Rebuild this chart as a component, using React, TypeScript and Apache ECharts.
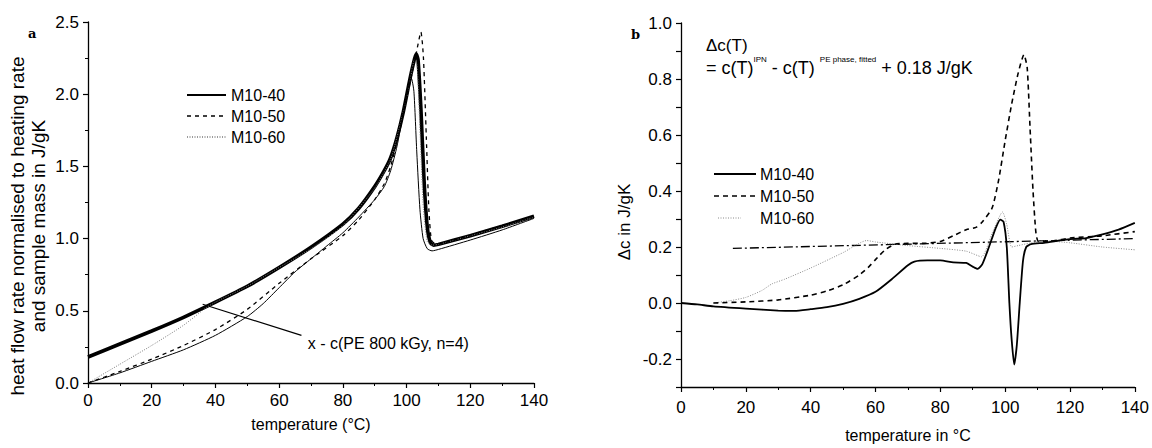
import React, { useEffect, useRef } from 'react';
import * as echarts from 'echarts';

// ---------- DATA ----------
const seriesNames = ['M10-40', 'M10-50', 'M10-60'];
const peName = 'x - c(PE 800 kGy, n=4)';
const baselineName = 'baseline';

// Panel a: heat flow rate (J/gK) vs temperature (°C)
const heatPE: [number, number][] = [
  [0, 0.18], [10, 0.27], [20, 0.36], [30, 0.455], [40, 0.56], [50, 0.67], [60, 0.8], [70, 0.94],
  [80, 1.1], [85, 1.21], [90, 1.36], [93, 1.47], [95, 1.56], [97, 1.7], [99, 1.88], [101, 2.1],
  [102, 2.2], [103, 2.28], [103.6, 2.24], [104.5, 1.9], [105.5, 1.4], [106.5, 1.08], [107.5, 0.97],
  [108.5, 0.955], [110, 0.96], [120, 1.02], [130, 1.085], [140, 1.155],
];
const heat40: [number, number][] = [
  [0, 0], [10, 0.07], [20, 0.15], [30, 0.23], [40, 0.33], [50, 0.46], [55, 0.55], [60, 0.66],
  [65, 0.77], [70, 0.86], [75, 0.95], [80, 1.04], [85, 1.15], [90, 1.27], [93, 1.36], [95, 1.47],
  [97, 1.64], [99, 1.87], [100.5, 2.04], [101.5, 2.11], [102.3, 2.02], [103.2, 1.6], [104.2, 1.2],
  [105.2, 1.0], [106.5, 0.93], [108, 0.915], [110, 0.925], [120, 0.99], [130, 1.06], [140, 1.14],
];
const heat50: [number, number][] = [
  [0, 0], [10, 0.08], [20, 0.165], [30, 0.26], [40, 0.37], [50, 0.51], [60, 0.69], [70, 0.86],
  [80, 1.02], [85, 1.13], [90, 1.27], [93, 1.38], [95, 1.5], [97, 1.67], [99, 1.87], [101, 2.07],
  [103, 2.28], [104.5, 2.43], [105.3, 2.25], [106.2, 1.7], [107, 1.2], [107.8, 0.99], [109, 0.965],
  [110, 0.965], [120, 1.025], [130, 1.09], [140, 1.155],
];
const heat60: [number, number][] = [
  [0, 0], [10, 0.13], [20, 0.26], [30, 0.4], [37, 0.52], [40, 0.56], [50, 0.67], [60, 0.8],
  [70, 0.93], [80, 1.09], [90, 1.35], [95, 1.55], [99, 1.88], [101, 2.08], [102.5, 2.24],
  [103.3, 2.2], [104.3, 1.7], [105.3, 1.2], [106.5, 0.98], [108, 0.955], [110, 0.96], [120, 1.02],
  [130, 1.08], [140, 1.15],
];

// Panel b: Δc (J/gK) vs temperature (°C)
const dc40: [number, number][] = [
  [0, 0], [5, -0.005], [10, -0.012], [20, -0.02], [30, -0.027], [35, -0.028], [40, -0.022],
  [45, -0.015], [50, -0.003], [55, 0.015], [60, 0.04], [65, 0.085], [70, 0.135], [72, 0.148],
  [76, 0.152], [80, 0.152], [84, 0.145], [88, 0.143], [90, 0.13], [91.5, 0.122], [93, 0.14],
  [95, 0.2], [97, 0.265], [98.5, 0.298], [99.5, 0.29], [100.5, 0.2], [101.3, 0.0], [102, -0.13],
  [102.8, -0.22], [103.6, -0.15], [104.5, 0.0], [105.5, 0.15], [106.5, 0.2], [108, 0.21],
  [112, 0.215], [120, 0.228], [125, 0.232], [130, 0.245], [135, 0.262], [140, 0.286],
];
const dc50: [number, number][] = [
  [10, 0.0], [20, 0.004], [30, 0.011], [40, 0.028], [45, 0.043], [50, 0.065], [55, 0.1],
  [58, 0.13], [60, 0.155], [63, 0.19], [66, 0.21], [70, 0.213], [75, 0.213], [80, 0.22],
  [84, 0.24], [88, 0.262], [91, 0.27], [93, 0.29], [96, 0.34], [98, 0.44], [100, 0.58],
  [102, 0.71], [104, 0.82], [105.8, 0.887], [106.8, 0.84], [107.7, 0.62], [108.6, 0.4],
  [109.5, 0.25], [110.3, 0.22], [115, 0.222], [120, 0.232], [130, 0.24], [140, 0.255],
];
const dc60: [number, number][] = [
  [10, 0.0], [15, 0.008], [20, 0.02], [25, 0.045], [28, 0.068], [32, 0.085], [40, 0.125],
  [50, 0.18], [57.3, 0.223], [60, 0.218], [70, 0.205], [80, 0.195], [88, 0.185], [92.7, 0.165],
  [96, 0.25], [99.2, 0.325], [100.5, 0.28], [102, 0.2], [104, 0.205], [108, 0.215], [112, 0.222],
  [120, 0.215], [130, 0.2], [140, 0.19],
];
const dcBaseline: [number, number][] = [[16, 0.195], [140, 0.23]];

// annotation anchor points (data coords of panel a)
const peArrowTip: [number, number] = [36, 0.545];
const peArrowTail: [number, number] = [67, 0.33];
const peLabelAt: [number, number] = [69, 0.275];

const FONT = '"Liberation Sans", Arial, sans-serif';

export default function App() {
  const ref = useRef<HTMLDivElement>(null);

  useEffect(() => {
    if (!ref.current) return;
    const chart = echarts.init(ref.current, undefined, { renderer: 'svg' });

    const axisLine = { show: true, onZero: false, lineStyle: { color: '#000', width: 1.3 } };
    const axisTick = { show: true, length: 5, lineStyle: { color: '#000', width: 1.2 } };
    const minorTick = { show: true, splitNumber: 2, length: 3, lineStyle: { color: '#000', width: 1 } };
    const labelStyle = { color: '#000', fontFamily: FONT, fontSize: 17 };

    const lineBase = {
      type: 'line' as const,
      showSymbol: false,
      symbol: 'none',
      smooth: 0.2,
      silent: true,
    };

    const stylesA: Record<string, any> = {
      'M10-40': { color: '#000', width: 1, type: 'solid' },
      'M10-50': { color: '#000', width: 1.3, type: [4, 4] },
      'M10-60': { color: '#7a7a7a', width: 1, type: [1, 1.5] },
    };
    const stylesB: Record<string, any> = {
      'M10-40': { color: '#000', width: 1.8, type: 'solid' },
      'M10-50': { color: '#000', width: 1.6, type: [5, 4] },
      'M10-60': { color: '#8a8a8a', width: 1, type: [1, 1.5] },
    };

    const option: any = {
      animation: false,
      backgroundColor: '#fff',
      grid: [
        { left: 88, top: 22, width: 446, height: 361 },
        { left: 681, top: 23, width: 457, height: 371 },
      ],
      xAxis: [
        {
          gridIndex: 0, type: 'value', min: 0, max: 140, interval: 20,
          axisLine, axisTick, minorTick, splitLine: { show: false },
          axisLabel: { ...labelStyle, margin: 9 },
          name: 'temperature (°C)', nameLocation: 'middle', nameGap: 33,
          nameTextStyle: { color: '#000', fontFamily: FONT, fontSize: 16 },
        },
        {
          gridIndex: 1, type: 'value', min: 0, max: 140, interval: 20,
          axisLine, axisTick, minorTick, splitLine: { show: false },
          axisLabel: { ...labelStyle, margin: 12 },
          name: 'temperature in °C', nameLocation: 'middle', nameGap: 40,
          nameTextStyle: { color: '#000', fontFamily: FONT, fontSize: 16 },
        },
      ],
      yAxis: [
        {
          gridIndex: 0, type: 'value', min: 0, max: 2.5, interval: 0.5,
          axisLine, axisTick, minorTick, splitLine: { show: false },
          axisLabel: { ...labelStyle, margin: 9, formatter: (v: number) => v.toFixed(1) },
        },
        {
          gridIndex: 1, type: 'value', min: -0.3, max: 1.0, interval: 0.1,
          axisLine, axisTick, splitLine: { show: false },
          axisLabel: {
            ...labelStyle, margin: 9,
            formatter: (v: number) => {
              const t = Math.round(v * 10);
              if (t % 2 !== 0) return '';
              return (t / 10).toFixed(1);
            },
          },
        },
      ],
      series: [
        { ...lineBase, name: peName, xAxisIndex: 0, yAxisIndex: 0, data: heatPE,
          lineStyle: { color: '#000', width: 3.6 }, z: 1 },
        { ...lineBase, name: 'M10-60', xAxisIndex: 0, yAxisIndex: 0, data: heat60,
          lineStyle: stylesA['M10-60'], z: 2 },
        { ...lineBase, name: 'M10-50', xAxisIndex: 0, yAxisIndex: 0, data: heat50,
          lineStyle: stylesA['M10-50'], z: 3 },
        { ...lineBase, name: 'M10-40', xAxisIndex: 0, yAxisIndex: 0, data: heat40,
          lineStyle: stylesA['M10-40'], z: 4 },

        { ...lineBase, name: baselineName, xAxisIndex: 1, yAxisIndex: 1, data: dcBaseline, smooth: false,
          lineStyle: { color: '#000', width: 1.3, type: [9, 3, 2, 3] }, z: 1 },
        { ...lineBase, name: 'M10-60', xAxisIndex: 1, yAxisIndex: 1, data: dc60,
          lineStyle: stylesB['M10-60'], z: 2 },
        { ...lineBase, name: 'M10-50', xAxisIndex: 1, yAxisIndex: 1, data: dc50,
          lineStyle: stylesB['M10-50'], z: 3 },
        { ...lineBase, name: 'M10-40', xAxisIndex: 1, yAxisIndex: 1, data: dc40,
          lineStyle: stylesB['M10-40'], z: 4 },
      ],
    };

    chart.setOption(option);

    const tip = chart.convertToPixel({ gridIndex: 0 } as any, peArrowTip) as number[];
    const tail = chart.convertToPixel({ gridIndex: 0 } as any, peArrowTail) as number[];
    const lab = chart.convertToPixel({ gridIndex: 0 } as any, peLabelAt) as number[];

    const dashOf = (t: any) => (Array.isArray(t) ? t : null);

    // legends (drawn as graphic so that the keys are plain line samples)
    const legendA = seriesNames.flatMap((n, i) => {
      const y = 95 + i * 21;
      const st = stylesA[n];
      return [
        {
          type: 'line', silent: true,
          shape: { x1: 187, y1: y, x2: 226, y2: y },
          style: { stroke: st.color, lineWidth: n === 'M10-40' ? 2.2 : st.width + 0.3, lineDash: dashOf(st.type) },
        },
        {
          type: 'text', x: 231, y,
          style: { text: n, font: `16px ${FONT}`, fill: '#000', align: 'left', verticalAlign: 'middle' },
        },
      ];
    });
    const legendB = seriesNames.flatMap((n, i) => {
      const y = 174 + i * 22;
      const st = stylesB[n];
      const x1 = n === 'M10-60' ? 718 : 714;
      const x2 = n === 'M10-60' ? 741 : 756;
      return [
        {
          type: 'line', silent: true,
          shape: { x1, y1: y, x2, y2: y },
          style: { stroke: st.color, lineWidth: st.width, lineDash: dashOf(st.type) },
        },
        {
          type: 'text', x: 760, y,
          style: { text: n, font: `16px ${FONT}`, fill: '#000', align: 'left', verticalAlign: 'middle' },
        },
      ];
    });

    chart.setOption({
      graphic: [
        ...legendA,
        ...legendB,
        { type: 'text', left: 28, top: 27, style: { text: 'a', font: 'bold 13px "DejaVu Serif", serif', fill: '#000' } },
        { type: 'text', left: 631, top: 28, style: { text: 'b', font: 'bold 13px "DejaVu Serif", serif', fill: '#000' } },
        {
          type: 'text', x: 28, y: 226, rotation: Math.PI / 2,
          style: {
            text: 'heat flow rate normalised to heating rate\nand sample mass in J/gK',
            font: `19px ${FONT}`, fill: '#000', align: 'center', verticalAlign: 'middle', lineHeight: 21,
          },
        },
        {
          type: 'text', x: 624, y: 222, rotation: Math.PI / 2,
          style: { text: 'Δc in J/gK', font: `17px ${FONT}`, fill: '#000', align: 'center', verticalAlign: 'middle' },
        },
        {
          type: 'line', silent: true,
          shape: { x1: tip[0], y1: tip[1], x2: tail[0], y2: tail[1] },
          style: { stroke: '#000', lineWidth: 1.2 },
        },
        {
          type: 'text', x: lab[0], y: lab[1],
          style: { text: peName, font: `16px ${FONT}`, fill: '#000', align: 'left', verticalAlign: 'middle' },
        },
        {
          type: 'text', x: 706, y: 45,
          style: { text: 'Δc(T)', font: `17px ${FONT}`, fill: '#000', align: 'left', verticalAlign: 'middle' },
        },
        {
          type: 'text', x: 706, y: 66,
          style: {
            text: '{m|= c(T)}{s|IPN}{m| - c(T) }{s|PE phase, fitted}{m| + 0.18 J/gK}',
            align: 'left', verticalAlign: 'middle',
            rich: {
              m: { fontFamily: FONT, fontSize: 18, fill: '#000', lineHeight: 22, verticalAlign: 'bottom' },
              s: { fontFamily: FONT, fontSize: 8, fill: '#000', lineHeight: 22, verticalAlign: 'top' },
            },
          },
        },
      ],
    });

    return () => chart.dispose();
  }, []);

  return (
    <div
      ref={ref}
      style={{ position: 'fixed', left: 0, top: 0, width: 1152, height: 448, background: '#fff' }}
    />
  );
}
